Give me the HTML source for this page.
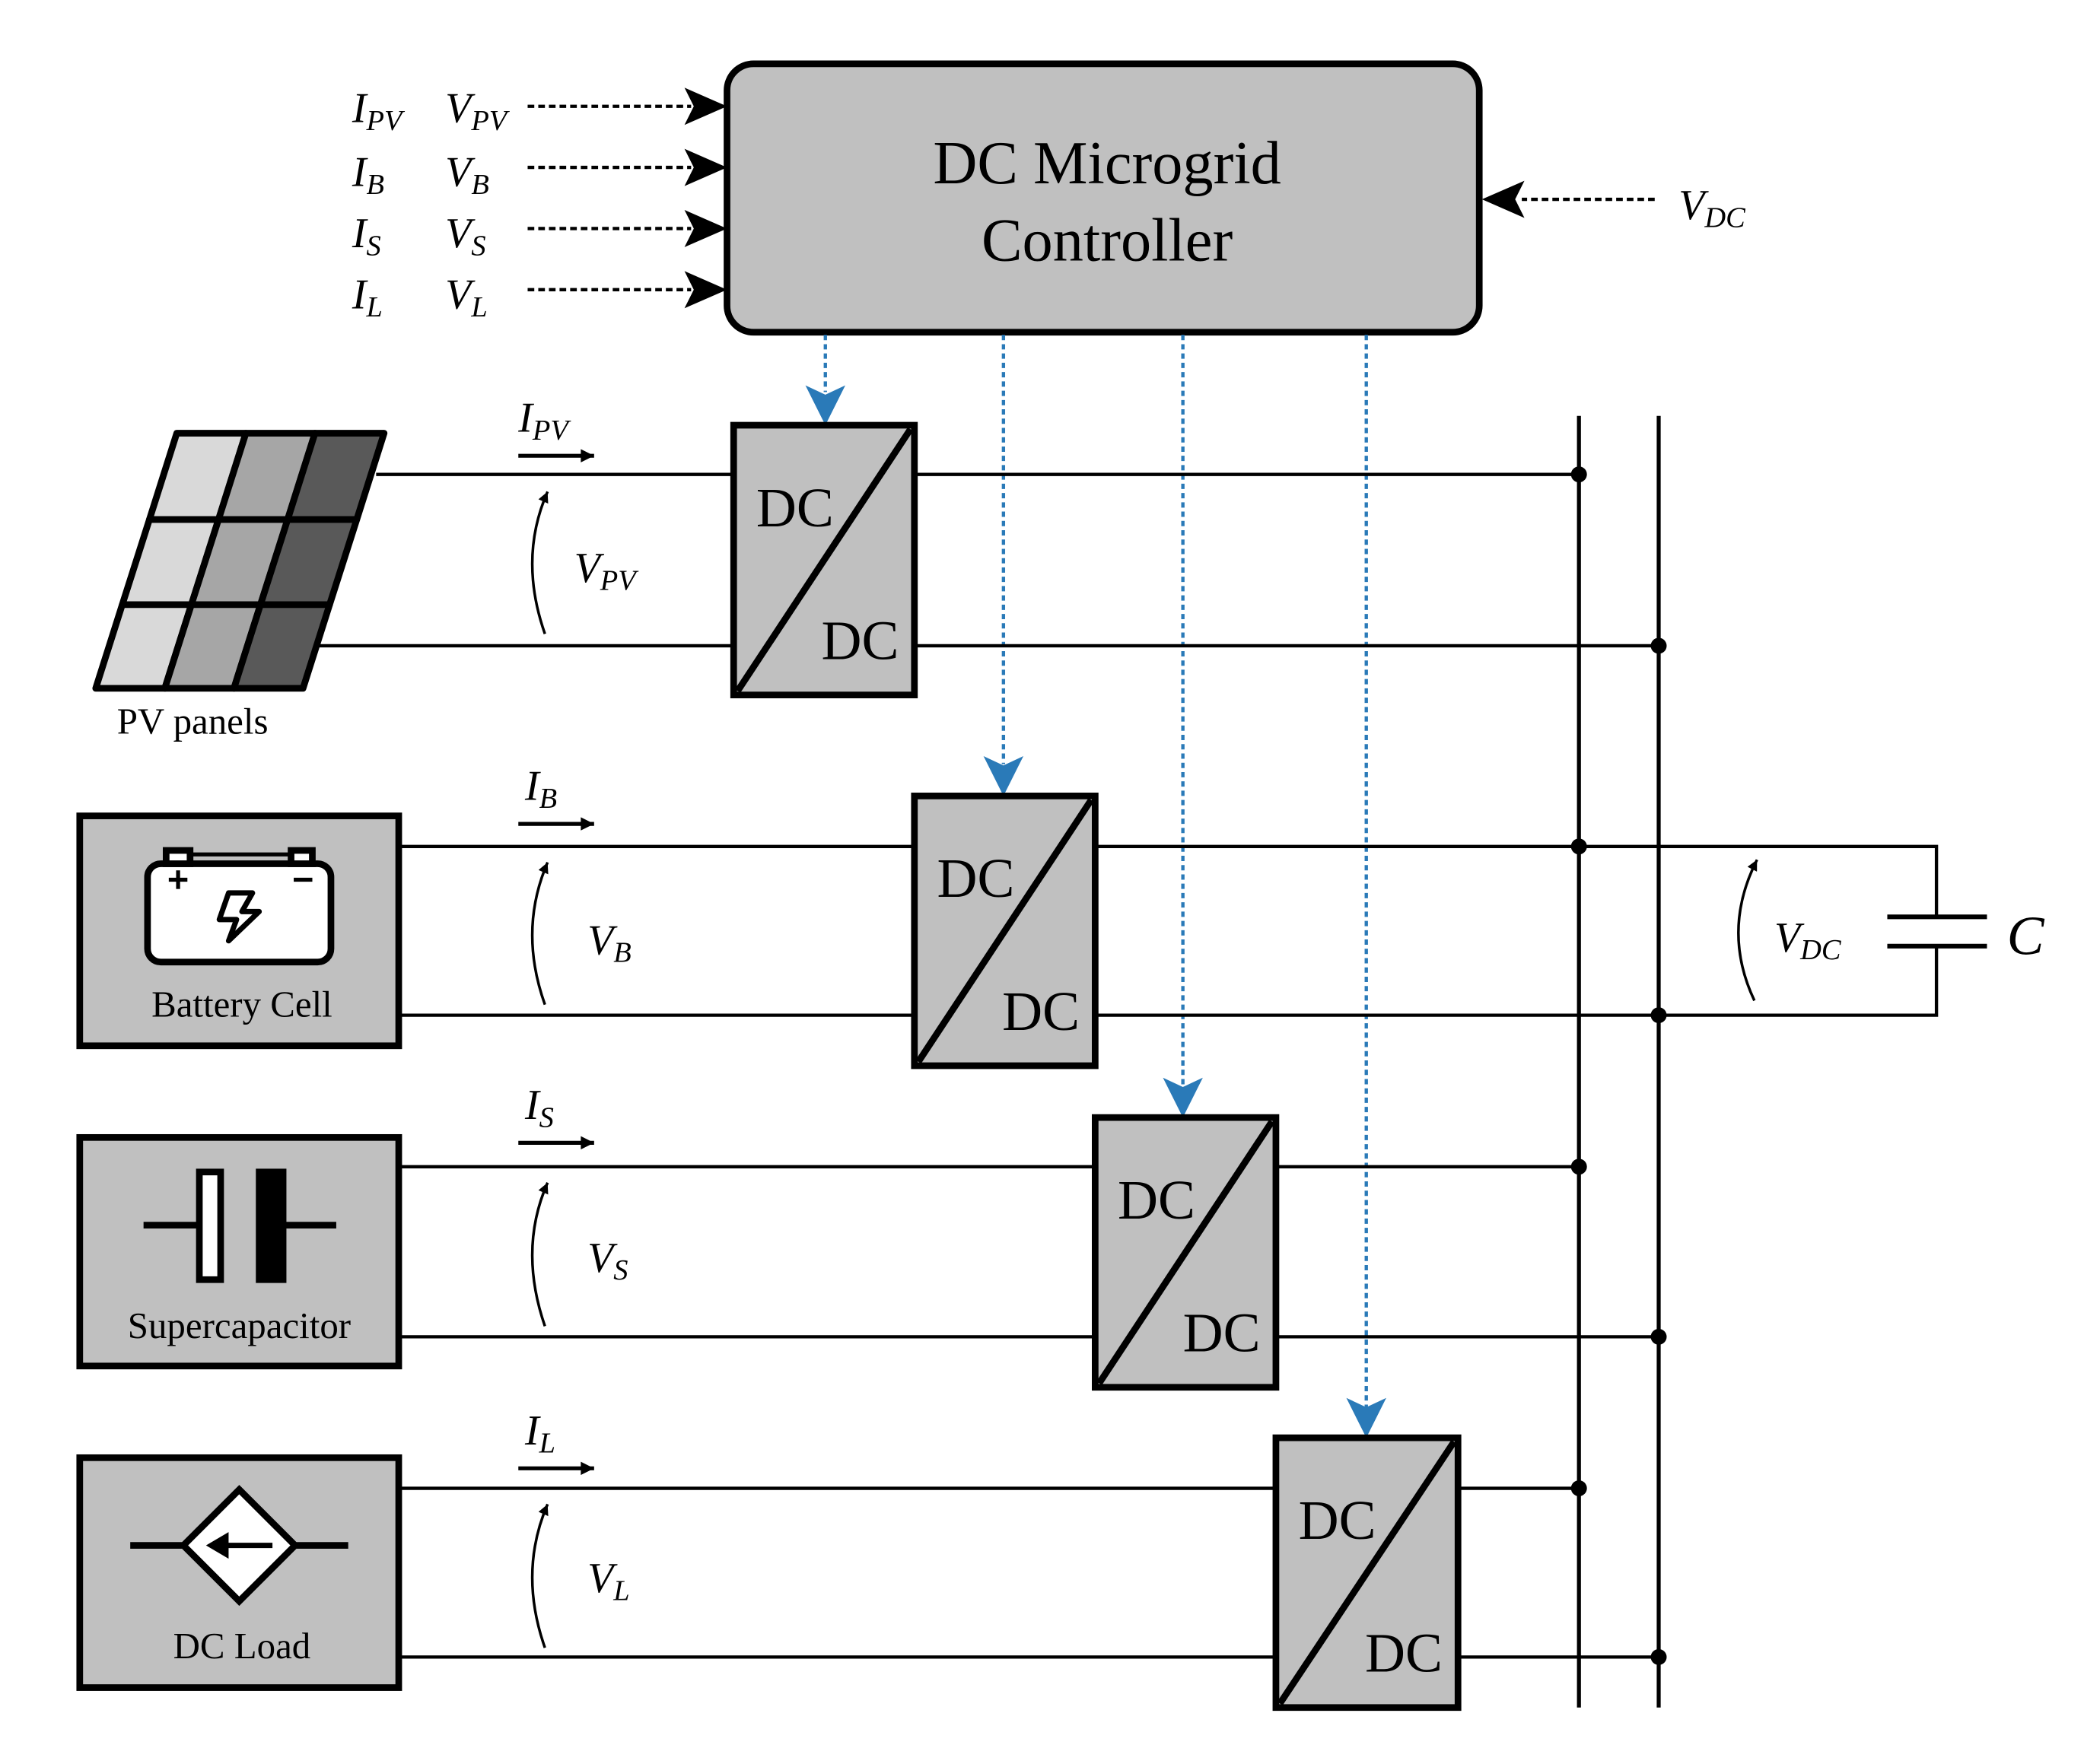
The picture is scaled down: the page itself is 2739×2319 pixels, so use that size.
<!DOCTYPE html>
<html><head><meta charset="utf-8"><style>html,body{margin:0;padding:0;background:#fff}svg{display:block}</style></head><body>
<svg width="2739" height="2319" viewBox="0 0 1568 1327.5" preserveAspectRatio="none" xmlns="http://www.w3.org/2000/svg" font-family="Liberation Serif, serif">
<defs>
<marker id="ab" viewBox="0 0 10 10" refX="10" refY="5" markerWidth="9" markerHeight="8" orient="auto" markerUnits="userSpaceOnUse"><path d="M0,0L10,5L0,10z"/></marker>
<marker id="ab2" viewBox="0 0 10 10" refX="10" refY="5" markerWidth="13" markerHeight="10" orient="auto" markerUnits="userSpaceOnUse"><path d="M0,0L10,5L0,10z"/></marker>
</defs>
<rect x="547" y="48" width="566" height="202" rx="20" fill="#c0c0c0" stroke="#000" stroke-width="5"/>
<text x="833" y="138" font-size="46" text-anchor="middle">DC Microgrid</text>
<text x="833" y="196" font-size="46" text-anchor="middle">Controller</text>
<g font-size="32" font-style="italic">
<text x="265" y="92">I<tspan font-size="22" dy="6">PV</tspan></text><text x="335" y="92">V<tspan font-size="22" dy="6">PV</tspan></text>
<text x="265" y="140">I<tspan font-size="22" dy="6">B</tspan></text><text x="335" y="140">V<tspan font-size="22" dy="6">B</tspan></text>
<text x="265" y="186">I<tspan font-size="22" dy="6">S</tspan></text><text x="335" y="186">V<tspan font-size="22" dy="6">S</tspan></text>
<text x="265" y="232">I<tspan font-size="22" dy="6">L</tspan></text><text x="335" y="232">V<tspan font-size="22" dy="6">L</tspan></text>
<text x="1263" y="165">V<tspan font-size="22" dy="6">DC</tspan></text>
</g>
<g stroke="#000" stroke-width="2.5" stroke-dasharray="5,3">
<line x1="397" y1="80" x2="520" y2="80"/><line x1="397" y1="126" x2="520" y2="126"/>
<line x1="397" y1="172" x2="520" y2="172"/><line x1="397" y1="218" x2="520" y2="218"/>
<line x1="1245" y1="150" x2="1145" y2="150"/>
</g>
<g fill="#000">
<path d="M515,66L547,80L515,94L522,80z"/><path d="M515,112L547,126L515,140L522,126z"/>
<path d="M515,158L547,172L515,186L522,172z"/><path d="M515,204L547,218L515,232L522,218z"/>
<path d="M1147,136L1115,150L1147,164L1140,150z"/>
</g>
<g stroke="#2a7ab8" stroke-width="2.5" stroke-dasharray="4,3">
<line x1="621" y1="252" x2="621" y2="295"/><line x1="755" y1="252" x2="755" y2="575"/>
<line x1="890" y1="252" x2="890" y2="817"/><line x1="1028" y1="252" x2="1028" y2="1059"/>
</g>
<g fill="#2a7ab8">
<path d="M606,290L621,320L636,290L621,297z"/><path d="M740,569L755,599L770,569L755,576z"/>
<path d="M875,811L890,841L905,811L890,818z"/><path d="M1013,1052L1028,1082L1043,1052L1028,1059z"/>
</g>
<g stroke="#000" stroke-width="2.5" fill="none">
<line x1="283" y1="357" x2="552" y2="357"/><line x1="240" y1="486" x2="552" y2="486"/>
<line x1="688" y1="357" x2="1188" y2="357"/><line x1="688" y1="486" x2="1248" y2="486"/>
<line x1="300" y1="637" x2="688" y2="637"/><line x1="300" y1="764" x2="688" y2="764"/>
<polyline points="824,637 1457,637 1457,690"/><polyline points="824,764 1457,764 1457,712"/>
<line x1="300" y1="878" x2="824" y2="878"/><line x1="300" y1="1006" x2="824" y2="1006"/>
<line x1="960" y1="878" x2="1188" y2="878"/><line x1="960" y1="1006" x2="1248" y2="1006"/>
<line x1="300" y1="1120" x2="960" y2="1120"/><line x1="300" y1="1247" x2="960" y2="1247"/>
<line x1="1097" y1="1120" x2="1188" y2="1120"/><line x1="1097" y1="1247" x2="1248" y2="1247"/>
<line x1="1188" y1="313" x2="1188" y2="1285" stroke-width="3"/><line x1="1248" y1="313" x2="1248" y2="1285" stroke-width="3"/>
<line x1="1420" y1="690" x2="1495" y2="690" stroke-width="3.5"/><line x1="1420" y1="712" x2="1495" y2="712" stroke-width="3.5"/>
</g>
<g fill="#000">
<circle cx="1188" cy="357" r="6"/><circle cx="1248" cy="486" r="6"/>
<circle cx="1188" cy="637" r="6"/><circle cx="1248" cy="764" r="6"/>
<circle cx="1188" cy="878" r="6"/><circle cx="1248" cy="1006" r="6"/>
<circle cx="1188" cy="1120" r="6"/><circle cx="1248" cy="1247" r="6"/>
</g>
<text x="1510" y="718" font-size="42" font-style="italic">C</text>
<g stroke="#000" stroke-width="5" fill="#c0c0c0">
<rect x="552" y="320" width="136" height="203"/><line x1="555" y1="520" x2="685" y2="323"/>
<rect x="688" y="599" width="136" height="203"/><line x1="691" y1="799" x2="821" y2="602"/>
<rect x="824" y="841" width="136" height="203"/><line x1="827" y1="1041" x2="957" y2="844"/>
<rect x="960" y="1082" width="137" height="203"/><line x1="963" y1="1282" x2="1094" y2="1085"/>
</g>
<g font-size="42">
<text x="569" y="396">DC</text><text x="618" y="496">DC</text>
<text x="705" y="675">DC</text><text x="754" y="775">DC</text>
<text x="841" y="917">DC</text><text x="890" y="1017">DC</text>
<text x="977" y="1158">DC</text><text x="1027" y="1258">DC</text>
</g>
<g stroke="#000" stroke-width="3" marker-end="url(#ab2)">
<line x1="390" y1="343" x2="447" y2="343"/><line x1="390" y1="620" x2="447" y2="620"/>
<line x1="390" y1="860" x2="447" y2="860"/><line x1="390" y1="1105" x2="447" y2="1105"/>
</g>
<g fill="none" stroke="#000" stroke-width="2" marker-end="url(#ab)">
<path d="M410,477 Q390,420 412,370"/><path d="M410,756 Q390,700 412,649"/>
<path d="M410,998 Q390,940 412,890"/><path d="M410,1240 Q390,1183 412,1132"/>
<path d="M1320,753 Q1295,700 1322,647"/>
</g>
<g font-size="32" font-style="italic">
<text x="390" y="325">I<tspan font-size="22" dy="6">PV</tspan></text><text x="432" y="438">V<tspan font-size="22" dy="6">PV</tspan></text>
<text x="395" y="602">I<tspan font-size="22" dy="6">B</tspan></text><text x="442" y="718">V<tspan font-size="22" dy="6">B</tspan></text>
<text x="395" y="842">I<tspan font-size="22" dy="6">S</tspan></text><text x="442" y="957">V<tspan font-size="22" dy="6">S</tspan></text>
<text x="395" y="1087">I<tspan font-size="22" dy="6">L</tspan></text><text x="442" y="1198">V<tspan font-size="22" dy="6">L</tspan></text>
<text x="1335" y="716">V<tspan font-size="22" dy="6">DC</tspan></text>
</g>
<g stroke="#000" stroke-width="5" stroke-linejoin="round">
<polygon points="133,326 185,326 164.4,391 112.4,391" fill="#d9d9d9"/>
<polygon points="185,326 237,326 216.4,391 164.4,391" fill="#a6a6a6"/>
<polygon points="237,326 289,326 268.4,391 216.4,391" fill="#595959"/>
<polygon points="112.4,391 164.4,391 144,455 92,455" fill="#d9d9d9"/>
<polygon points="164.4,391 216.4,391 196,455 144,455" fill="#a6a6a6"/>
<polygon points="216.4,391 268.4,391 248,455 196,455" fill="#595959"/>
<polygon points="92,455 144,455 124,518 72,518" fill="#d9d9d9"/>
<polygon points="144,455 196,455 176,518 124,518" fill="#a6a6a6"/>
<polygon points="196,455 248,455 228,518 176,518" fill="#595959"/>
</g>
<text x="88" y="552" font-size="28">PV panels</text>
<g stroke="#000" stroke-width="5" fill="#c0c0c0">
<rect x="60" y="614" width="240" height="173"/><rect x="60" y="856" width="240" height="172"/><rect x="60" y="1097" width="240" height="173"/>
</g>
<g stroke="#000" stroke-width="5">
<rect x="111" y="650" width="138" height="74" rx="10" fill="#fff"/>
<rect x="125" y="640" width="18" height="10" fill="#fff"/><rect x="219" y="640" width="16" height="10" fill="#fff"/>
<line x1="143" y1="643" x2="219" y2="643" stroke-width="3"/>
<line x1="127" y1="662" x2="141" y2="662" stroke-width="3"/><line x1="134" y1="655" x2="134" y2="669" stroke-width="3"/>
<line x1="221" y1="662" x2="235" y2="662" stroke-width="3"/>
<path d="M172,672 L190,672 L182,686 L195,686 L172,708 L178,692 L165,692 Z" fill="none" stroke-width="4" stroke-linejoin="round"/>
</g>
<text x="182" y="765" font-size="28" text-anchor="middle">Battery Cell</text>
<g stroke="#000" stroke-width="5">
<line x1="108" y1="922" x2="150" y2="922"/><line x1="213" y1="922" x2="253" y2="922"/>
<rect x="150" y="882" width="16" height="81" fill="#fff"/><rect x="195" y="882" width="18" height="81" fill="#000"/>
</g>
<text x="180" y="1007" font-size="28" text-anchor="middle">Supercapacitor</text>
<g stroke="#000" stroke-width="5">
<line x1="98" y1="1163" x2="138" y2="1163"/><line x1="222" y1="1163" x2="262" y2="1163"/>
<polygon points="180,1121 222,1163 180,1205 138,1163" fill="#fff"/>
<line x1="168" y1="1163" x2="205" y2="1163" stroke-width="4"/>
</g>
<path d="M155,1163 L172,1153 L172,1173 Z" fill="#000"/>
<text x="182" y="1248" font-size="28" text-anchor="middle">DC Load</text>
</svg>
</body></html>
